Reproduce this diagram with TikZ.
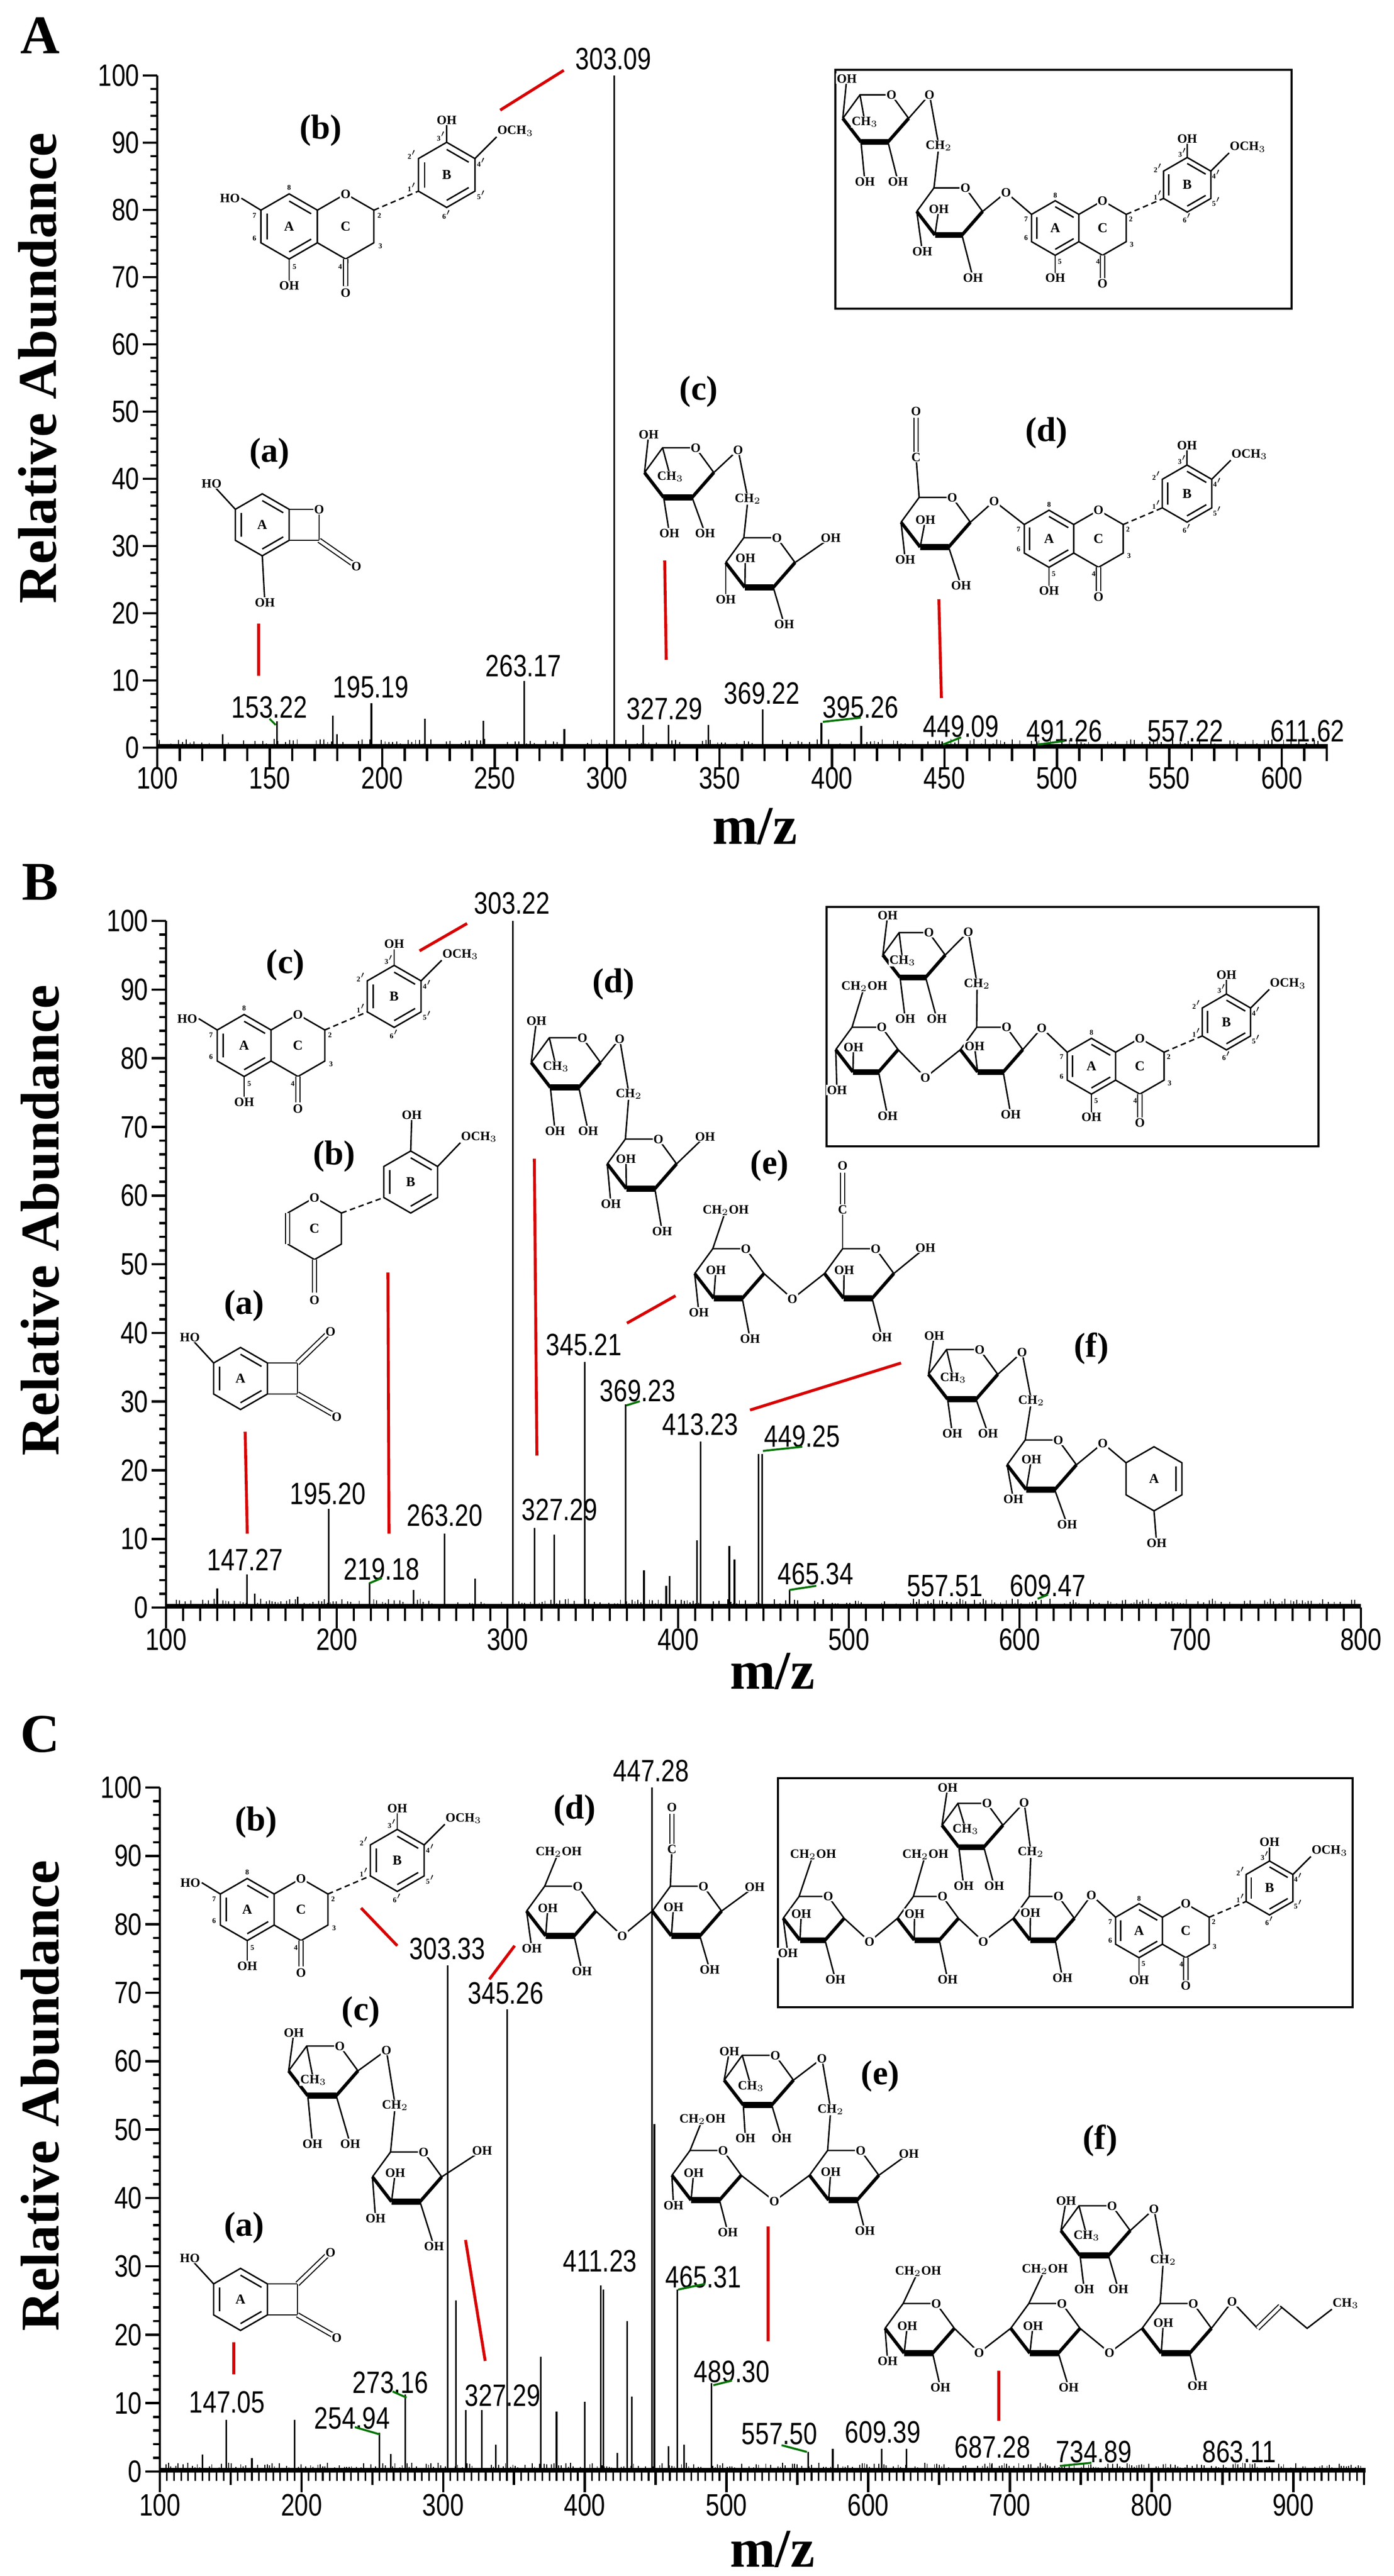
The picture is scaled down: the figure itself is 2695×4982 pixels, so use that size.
\documentclass[tikz,border=0pt]{standalone}
\usepackage{fontspec}
\setmainfont{Liberation Serif}
\newfontfamily\arial{Liberation Sans}
\usetikzlibrary{calc}
\tikzset{
 bond/.style={line width=0.8pt},
 dbl/.style={double, double distance=1.8pt, line width=0.6pt},
 atm/.style={font=\fontsize{7}{8}\selectfont\bfseries, fill=white, inner sep=0.4pt},
 num/.style={font=\fontsize{4}{5}\selectfont\bfseries, inner sep=0},
 rlab/.style={font=\fontsize{7.5}{8}\selectfont\bfseries, inner sep=0},
 flab/.style={font=\fontsize{19}{20}\selectfont\bfseries, inner sep=0},
 plab/.style={font=\arial\fontsize{17}{18}\selectfont, inner sep=0},
 tlab/.style={font=\arial\fontsize{17}{18}\selectfont, inner sep=0},
 axisline/.style={line width=1.3pt},
 peak/.style={line width=0.9pt},
 redln/.style={draw=red!85!black, line width=1.6pt},
 grn/.style={draw=green!45!black, line width=1.1pt},
 ttl/.style={font=\fontsize{30}{32}\selectfont\bfseries, inner sep=0},
 frame/.style={draw, line width=1pt},
}
\newcommand\nr[1]{\scalebox{0.8}[1]{#1}}
\newcommand\pk[2]{\draw[peak] ({\XO+(#1-100)*\XS},\YO) -- ++(0,{-#2*\YS});}
\newcommand\plb[3]{\node[plab] at (#1,#2) {\nr{#3}};}
\newcommand\subst[3]{\draw[bond] (#1) -- (#2) node[atm]{#3};}
\newcommand\olk[3]{\draw[bond] (#1) -- (#2) -- (#3); \node[atm] at (#2) {O};}
\newcommand\noise[1]{\foreach \m in {101,102.7,...,#1}{\pgfmathsetmacro\hh{rnd*1.3}\draw[line width=0.5pt] ({\XO+(\m-100)*\XS},\YO) -- ++(0,{-\hh*\YS});}}
% flavanone
\newcommand\flav[5]{%
\begin{scope}[shift={(#2,#3)},scale=#4]
\coordinate (#1-a) at (0,0);
\coordinate (#1-8) at (0,-60); \coordinate (#1-8a) at (52,-30); \coordinate (#1-4a) at (52,30);
\coordinate (#1-5) at (0,60); \coordinate (#1-6) at (-52,30); \coordinate (#1-7) at (-52,-30);
\coordinate (#1-o1) at (104,-60); \coordinate (#1-2) at (156,-30); \coordinate (#1-3) at (156,30); \coordinate (#1-4) at (104,60);
\coordinate (#1-b) at (290,-95);
\coordinate (#1-1p) at (238,-65); \coordinate (#1-2p) at (238,-125); \coordinate (#1-3p) at (290,-155);
\coordinate (#1-4p) at (342,-125); \coordinate (#1-5p) at (342,-65); \coordinate (#1-6p) at (290,-35);
\draw[bond] (#1-8)--(#1-8a)--(#1-4a)--(#1-5)--(#1-6)--(#1-7)--cycle;
\draw[bond] ($(#1-a)!0.78!(#1-8)$)--($(#1-a)!0.78!(#1-8a)$);
\draw[bond] ($(#1-a)!0.78!(#1-4a)$)--($(#1-a)!0.78!(#1-5)$);
\draw[bond] ($(#1-a)!0.78!(#1-6)$)--($(#1-a)!0.78!(#1-7)$);
\draw[bond] (#1-8a)--(#1-o1)--(#1-2)--(#1-3)--(#1-4)--(#1-4a);
\draw[dbl] (#1-4) -- (104,110);
\node[atm] at (104,122) {O};
\draw[bond] (#1-5) -- (0,105) node[atm,below=-2pt]{OH};
\draw[bond] (#1-1p)--(#1-2p)--(#1-3p)--(#1-4p)--(#1-5p)--(#1-6p)--cycle;
\draw[bond] ($(#1-b)!0.78!(#1-1p)$)--($(#1-b)!0.78!(#1-2p)$);
\draw[bond] ($(#1-b)!0.78!(#1-3p)$)--($(#1-b)!0.78!(#1-4p)$);
\draw[bond] ($(#1-b)!0.78!(#1-5p)$)--($(#1-b)!0.78!(#1-6p)$);
\draw[bond, densely dashed] (#1-2) -- (#1-1p);
\draw[bond] (#1-3p) -- (290,-192) node[atm,above=-2pt]{OH};
\draw[bond] (#1-4p) -- (382,-165) node[atm,anchor=south west,inner sep=0pt]{OCH$_3$};
\node[atm] at (#1-o1) {O};
\node[rlab] at (#1-a) {A}; \node[rlab] at (104,0) {C}; \node[rlab] at (#1-b) {B};
\node[num] at (0,-72) {8}; \node[num] at (-64,-20) {7}; \node[num] at (-64,22) {6};
\node[num] at (10,74) {5}; \node[num] at (94,74) {4}; \node[num] at (168,36) {3};
\node[num] at (166,-20) {2}; \node[num] at (226,-72) {1$'$}; \node[num] at (226,-132) {2$'$};
\node[num] at (280,-166) {3$'$}; \node[num] at (354,-118) {4$'$}; \node[num] at (354,-58) {5$'$};
\node[num] at (290,-22) {6$'$};
\ifnum#5=1 \draw[bond] (#1-7) -- (-88,-52) node[atm,anchor=east]{HO};\fi
\end{scope}}
% A ring fragment with 4-membered ring
\newcommand\fraga[4]{%
\begin{scope}[shift={(#2,#3)}]
\coordinate (#1-c) at (0,0);
\coordinate (#1-t) at (0,-60); \coordinate (#1-tr) at (52,-30); \coordinate (#1-br) at (52,30);
\coordinate (#1-b) at (0,60); \coordinate (#1-bl) at (-52,30); \coordinate (#1-tl) at (-52,-30);
\coordinate (#1-s1) at (110,-30); \coordinate (#1-s2) at (110,30);
\draw[bond] (#1-t)--(#1-tr)--(#1-br)--(#1-b)--(#1-bl)--(#1-tl)--cycle;
\draw[bond] ($(#1-c)!0.78!(#1-t)$)--($(#1-c)!0.78!(#1-tr)$);
\draw[bond] ($(#1-c)!0.78!(#1-br)$)--($(#1-c)!0.78!(#1-b)$);
\draw[bond] ($(#1-c)!0.78!(#1-bl)$)--($(#1-c)!0.78!(#1-tl)$);
\draw[bond] (#1-tr)--(#1-s1)--(#1-s2)--(#1-br);
\draw[bond] (#1-tl) -- (-98,-80) node[atm]{HO};
\node[rlab] at (#1-c) {A};
\ifnum#4=1
 \node[atm] at (#1-s1) {O};
 \draw[dbl] (#1-s2) -- (176,76); \node[atm] at (182,80) {O};
 \draw[bond] (#1-b) -- (5,150) node[atm]{OH};
\else
 \draw[dbl] (#1-s1) -- (168,-86); \node[atm] at (174,-91) {O};
 \draw[dbl] (#1-s2) -- (180,70); \node[atm] at (186,74) {O};
\fi
\end{scope}}
% Haworth sugar ring
\newcommand\sug[4]{%
\begin{scope}[shift={(#2,#3)},scale=#4]
\coordinate (#1-c5) at (-32,-48); \coordinate (#1-o) at (32,-48); \coordinate (#1-c1) at (67,0);
\coordinate (#1-c2) at (25,48); \coordinate (#1-c3) at (-30,48); \coordinate (#1-c4) at (-67,0);
\draw[bond] (#1-c4)--(#1-c5)--(#1-o)--(#1-c1);
\draw[line width=1.8pt, line join=round] (#1-c1)--(#1-c2);
\draw[line width=1.8pt, line join=round] (#1-c3)--(#1-c4);
\draw[line width=3.2pt] (#1-c2)--(#1-c3);
\node[atm] at (#1-o) {O};
\end{scope}}
\begin{document}
\begin{tikzpicture}[x=0.01cm,y=-0.01cm]
\useasboundingbox (0,0) rectangle (2695,4982);
\fill[white] (0,0) rectangle (2695,4982);
\pgfmathsetseed{7}
%================ PANEL A
\node[ttl] (LA) at (78,69) {A};
\node[ttl, rotate=90] (YA) at (73,712) {Relative Abundance};
\node[ttl] (XA) at (1459,1598) {m/z};
\def\XO{304}\def\XS{4.348}\def\YO{1446}\def\YS{13}
\noise{618}
\draw[axisline] (304,146) -- (304,1446) -- (2567,1446);
\draw[line width=2.2pt] (304,1443) -- (2567,1443);
\foreach \v in {0,2,...,100} \draw[axisline] (304,{1446-\v*13}) -- ++(-13,0);
\foreach \v in {0,10,...,100} {\draw[axisline] (304,{1446-\v*13}) -- ++(-28,0);
 \node[tlab,anchor=east] at (270,{1446-\v*13}) {\nr{\v}};}
\foreach \m in {100,110,...,620} \draw[axisline] ({304+(\m-100)*4.348},1446) -- ++(0,26);
\foreach \m in {100,150,...,600} {\draw[axisline] ({304+(\m-100)*4.348},1446) -- ++(0,40);
 \node[tlab] at ({304+(\m-100)*4.348},1505) {\nr{\m}};}
\pk{129}{2.0}\pk{153.2}{3.9}\pk{178}{4.8}\pk{180}{2.0}\pk{195.2}{6.6}\pk{219}{4.3}
\pk{245}{4.0}\pk{263.2}{9.9}\pk{281}{2.8}\pk{303.1}{100}\pk{316}{3.4}\pk{327.3}{3.4}
\pk{345}{3.4}\pk{369.2}{5.7}\pk{395.3}{3.7}\pk{413}{3.2}\pk{449}{0.9}\pk{491}{0.9}\pk{557}{0.6}\pk{611}{0.7}
\plb{1186}{114}{303.09}\plb{521}{1368}{153.22}\plb{717}{1329}{195.19}\plb{1012}{1288}{263.17}
\plb{1285}{1371}{327.29}\plb{1473}{1341}{369.22}\plb{1664}{1368}{395.26}\plb{1858}{1405}{449.09}
\plb{2058}{1414}{491.26}\plb{2292}{1414}{557.22}\plb{2528}{1414}{611.62}
\draw[grn] (521,1390) -- (533,1402);
\draw[grn] (1591,1396) -- (1664,1388);
\draw[grn] (1823,1440) -- (1858,1426);
\draw[grn] (2006,1440) -- (2058,1433);
\draw[redln] (967,213) -- (1090,136);
\draw[redln] (500,1206) -- (500,1307);
\draw[redln] (1285,1084) -- (1288,1276);
\draw[redln] (1815,1159) -- (1820,1350);
% (b)
\node[flab] at (620,252) {(b)};
\flav{ab}{559}{438}{1.05}{1}
% (a)
\node[flab] at (521,877) {(a)};
\fraga{aa}{507}{1015}{1}
% (c)
\node[flab] at (1351,757) {(c)};
\sug{ac1}{1313}{914}{1}
\subst{ac1-c4}{1254,840}{OH}
\subst{ac1-c5}{1296,922}{CH$_3$}
\subst{ac1-c3}{1294,1031}{OH}
\subst{ac1-c2}{1363,1031}{OH}
\sug{ac2}{1470}{1088}{1}
\draw[bond] (ac1-c1) -- (1427,870) -- (1446,965) -- (ac2-c5);
\node[atm] at (1427,870) {O}; \node[atm] at (1446,965) {CH$_2$};
\subst{ac2-c1}{1606,1040}{OH}
\subst{ac2-c3}{1441,1079}{OH}
\subst{ac2-c4}{1403,1159}{OH}
\subst{ac2-c2}{1516,1207}{OH}
% (d)
\node[flab] at (2023,837) {(d)};
\flav{ad}{2028}{1042}{0.92}{0}
\sug{ad1}{1809}{1010}{1}
\draw[bond] (ad1-c5) -- (1771,884); \node[atm] (adC) at (1771,884) {C};
\draw[dbl] (adC) -- (1771,808); \node[atm] at (1771,795) {O};
\olk{ad1-c1}{1922,969}{ad-7}
\subst{ad1-c3}{1789,1005}{OH}
\subst{ad1-c4}{1750,1082}{OH}
\subst{ad1-c2}{1858,1132}{OH}
% box A
\draw[frame] (1615,135) rectangle (2497,597);
\flav{abx}{2040}{441}{0.88}{0}
\sug{abx1}{1693}{229}{0.95}
\subst{abx1-c4}{1637,152}{OH}
\subst{abx1-c5}{1672,236}{CH$_3$}
\subst{abx1-c3}{1672,351}{OH}
\subst{abx1-c2}{1736,351}{OH}
\sug{abx2}{1836}{409}{0.95}
\draw[bond] (abx1-c1) -- (1797,183) -- (1815,282) -- (abx2-c5);
\node[atm] at (1797,183) {O}; \node[atm] at (1815,282) {CH$_2$};
\olk{abx2-c1}{1945,372}{abx-7}
\subst{abx2-c3}{1815,404}{OH}
\subst{abx2-c4}{1783,486}{OH}
\subst{abx2-c2}{1881,537}{OH}
%================ PANEL B
\node[ttl] (LB) at (78,1706) {B};
\node[ttl, rotate=90] (YB) at (78,2360) {Relative Abundance};
\node[ttl] (XB) at (1493,3232) {m/z};
\def\XO{321}\def\XS{3.3}\def\YO{3109}\def\YS{13.28}
\noise{798}
\draw[axisline] (321,1781) -- (321,3109) -- (2631,3109);
\draw[line width=2.2pt] (321,3106) -- (2631,3106);
\foreach \v in {0,2,...,100} \draw[axisline] (321,{3109-\v*13.28}) -- ++(-13,0);
\foreach \v in {0,10,...,100} {\draw[axisline] (321,{3109-\v*13.28}) -- ++(-28,0);
 \node[tlab,anchor=east] at (287,{3109-\v*13.28}) {\nr{\v}};}
\foreach \m in {100,110,...,800} \draw[axisline] ({321+(\m-100)*3.3},3109) -- ++(0,26);
\foreach \m in {100,200,...,800} {\draw[axisline] ({321+(\m-100)*3.3},3109) -- ++(0,40);
 \node[tlab] at ({321+(\m-100)*3.3},3171) {\nr{\m}};}
\pk{130}{2.8}\pk{147.3}{4.8}\pk{152}{2}\pk{177}{1.6}\pk{195.2}{14.4}\pk{219.2}{3.6}\pk{245}{2.6}
\pk{263.2}{10.8}\pk{281}{4.2}\pk{303.2}{100}\pk{316}{11.6}\pk{327.3}{10.6}\pk{345.2}{35.8}
\pk{369.2}{29.6}\pk{380}{5.4}\pk{393}{3.2}\pk{395}{4.6}\pk{411}{9.8}\pk{413.2}{24.2}\pk{430}{9}
\pk{433}{7}\pk{447}{22.4}\pk{449.2}{22.4}\pk{465.3}{2.6}\pk{485}{1.2}\pk{557.5}{0.8}\pk{609.5}{1}
\plb{990}{1747}{303.22}\plb{1129}{2601}{345.21}\plb{1233}{2690}{369.23}\plb{1354}{2755}{413.23}
\plb{1551}{2778}{449.25}\plb{634}{2889}{195.20}\plb{860}{2931}{263.20}\plb{1082}{2920}{327.29}
\plb{474}{3017}{147.27}\plb{738}{3035}{219.18}\plb{1577}{3044}{465.34}\plb{1827}{3067}{557.51}
\plb{2026}{3067}{609.47}
\draw[grn] (714,3062) -- (738,3052);
\draw[grn] (1211,2718) -- (1237,2710);
\draw[grn] (1475,2806) -- (1551,2798);
\draw[grn] (1526,3075) -- (1578,3067);
\draw[grn] (2006,3092) -- (2026,3084);
\draw[redln] (811,1839) -- (903,1786);
\draw[redln] (474,2769) -- (478,2966);
\draw[redln] (750,2461) -- (752,2966);
\draw[redln] (1033,2241) -- (1038,2815);
\draw[redln] (1212,2559) -- (1306,2506);
\draw[redln] (1450,2727) -- (1742,2636);
% (c)
\node[flab] at (552,1866) {(c)};
\flav{bc}{472}{2022}{1.0}{1}
% (b)
\node[flab] at (646,2236) {(b)};
\coordinate (bbO) at (608,2316); \coordinate (bb2) at (660,2346); \coordinate (bb3) at (660,2406);
\coordinate (bb4) at (608,2436); \coordinate (bb4a) at (556,2406); \coordinate (bb8a) at (556,2346);
\draw[bond] (bb8a) -- (bbO) -- (bb2) -- (bb3) -- (bb4) -- (bb4a);
\draw[dbl] (bb4a) -- (bb8a);
\draw[dbl] (bb4) -- (608,2500); \node[atm] at (608,2514) {O};
\node[atm] at (bbO) {O}; \node[rlab] at (608,2376) {C};
\coordinate (bbB) at (794,2286);
\coordinate (bb1p) at (742,2316); \coordinate (bb2p) at (742,2256); \coordinate (bb3p) at (794,2226);
\coordinate (bb4p) at (846,2256); \coordinate (bb5p) at (846,2316); \coordinate (bb6p) at (794,2346);
\draw[bond] (bb1p)--(bb2p)--(bb3p)--(bb4p)--(bb5p)--(bb6p)--cycle;
\draw[bond] ($(bbB)!0.78!(bb1p)$)--($(bbB)!0.78!(bb2p)$);
\draw[bond] ($(bbB)!0.78!(bb3p)$)--($(bbB)!0.78!(bb4p)$);
\draw[bond] ($(bbB)!0.78!(bb5p)$)--($(bbB)!0.78!(bb6p)$);
\draw[bond, densely dashed] (bb2) -- (bb1p);
\node[rlab] at (bbB) {B};
\draw[bond] (bb3p) -- (796,2160) node[atm,above=-2pt]{OH};
\draw[bond] (bb4p) -- (890,2210) node[atm,anchor=south west,inner sep=0pt]{OCH$_3$};
% (a)
\node[flab] at (472,2525) {(a)};
\fraga{ba}{465}{2666}{2}
% (d)
\node[flab] at (1186,1903) {(d)};
\sug{bd1}{1094}{2055}{1}
\subst{bd1-c4}{1037,1974}{OH}
\subst{bd1-c5}{1075,2063}{CH$_3$}
\subst{bd1-c3}{1073,2187}{OH}
\subst{bd1-c2}{1137,2187}{OH}
\sug{bd2}{1241}{2251}{1}
\draw[bond] (bd1-c1) -- (1198,2009) -- (1216,2116) -- (bd2-c5);
\node[atm] at (1198,2009) {O}; \node[atm] at (1216,2116) {CH$_2$};
\subst{bd2-c1}{1363,2198}{OH}
\subst{bd2-c3}{1210,2241}{OH}
\subst{bd2-c4}{1181,2328}{OH}
\subst{bd2-c2}{1280,2381}{OH}
% (e)
\node[flab] at (1488,2254) {(e)};
\sug{be1}{1410}{2463}{1}
\subst{be1-c5}{1403,2341}{CH$_2$OH}
\subst{be1-c3}{1384,2456}{OH}
\subst{be1-c4}{1351,2538}{OH}
\subst{be1-c2}{1450,2589}{OH}
\sug{be2}{1661}{2463}{1}
\olk{be1-c1}{1532,2512}{be2-c4}
\draw[bond] (be2-c5) -- (1629,2339); \node[atm] (beC) at (1629,2339) {C};
\draw[dbl] (beC) -- (1629,2268); \node[atm] at (1629,2254) {O};
\subst{be2-c1}{1789,2413}{OH}
\subst{be2-c3}{1632,2456}{OH}
\subst{be2-c2}{1705,2586}{OH}
% (f)
\node[flab] at (2110,2608) {(f)};
\sug{bf1}{1862}{2658}{1}
\subst{bf1-c4}{1806,2583}{OH}
\subst{bf1-c5}{1843,2665}{CH$_3$}
\subst{bf1-c3}{1841,2772}{OH}
\subst{bf1-c2}{1910,2772}{OH}
\sug{bf2}{2014}{2833}{1}
\draw[bond] (bf1-c1) -- (1976,2615) -- (1994,2709) -- (bf2-c5);
\node[atm] at (1976,2615) {O}; \node[atm] at (1994,2709) {CH$_2$};
\subst{bf2-c3}{1994,2822}{OH}
\subst{bf2-c4}{1959,2899}{OH}
\subst{bf2-c2}{2063,2948}{OH}
\coordinate (bfP) at (2231,2860);
\coordinate (bfp1) at (2231,2798); \coordinate (bfp2) at (2285,2829); \coordinate (bfp3) at (2285,2891);
\coordinate (bfp4) at (2231,2922); \coordinate (bfp5) at (2177,2891); \coordinate (bfp6) at (2177,2829);
\draw[bond] (bfp1)--(bfp2)--(bfp3)--(bfp4)--(bfp5)--(bfp6)--cycle;
\draw[bond] ($(bfP)!0.78!(bfp2)$)--($(bfP)!0.78!(bfp3)$);
\node[rlab] at (bfP) {A};
\olk{bf2-c1}{2132,2791}{bfp6}
\subst{bfp4}{2236,2984}{OH}
% box B
\draw[frame] (1598,1754) rectangle (2549,2217);
\flav{bbx}{2110}{2062}{0.9}{0}
\sug{bbx1}{1767}{1847}{0.9}
\subst{bbx1-c4}{1716,1770}{OH}
\subst{bbx1-c5}{1745,1858}{CH$_3$}
\subst{bbx1-c3}{1750,1970}{OH}
\subst{bbx1-c2}{1811,1970}{OH}
\sug{bbx2}{1917}{2030}{0.9}
\draw[bond] (bbx1-c1) -- (1872,1802) -- (1889,1903) -- (bbx2-c5);
\node[atm] at (1872,1802) {O}; \node[atm] at (1889,1903) {CH$_2$};
\olk{bbx2-c1}{2014,1988}{bbx-7}
\subst{bbx2-c3}{1884,2023}{OH}
\subst{bbx2-c2}{1954,2155}{OH}
\sug{bbx3}{1676}{2030}{0.9}
\olk{bbx3-c1}{1789,2084}{bbx2-c4}
\subst{bbx3-c5}{1671,1908}{CH$_2$OH}
\subst{bbx3-c3}{1650,2025}{OH}
\subst{bbx3-c4}{1618,2108}{OH}
\subst{bbx3-c2}{1716,2158}{OH}
%================ PANEL C
\node[ttl] (LC) at (78,3354) {C};
\node[ttl, rotate=90] (YC) at (78,4053) {Relative Abundance};
\node[ttl] (XC) at (1493,4930) {m/z};
\def\XO{309}\def\XS{2.739}\def\YO{4780}\def\YS{13.23}
\noise{948}
\draw[axisline] (309,3457) -- (309,4780) -- (2640,4780);
\draw[line width=2.2pt] (309,4777) -- (2640,4777);
\foreach \v in {0,2,...,100} \draw[axisline] (309,{4780-\v*13.23}) -- ++(-13,0);
\foreach \v in {0,10,...,100} {\draw[axisline] (309,{4780-\v*13.23}) -- ++(-28,0);
 \node[tlab,anchor=east] at (275,{4780-\v*13.23}) {\nr{\v}};}
\foreach \m in {100,105,...,950} \draw[line width=0.9pt] ({309+(\m-100)*2.739},4780) -- ++(0,18);
\foreach \m in {100,150,...,950} \draw[axisline] ({309+(\m-100)*2.739},4780) -- ++(0,26);
\foreach \m in {100,200,...,900} {\draw[axisline] ({309+(\m-100)*2.739},4780) -- ++(0,40);
 \node[tlab] at ({309+(\m-100)*2.739},4845) {\nr{\m}};}
\pk{130}{2.5}\pk{147}{7.6}\pk{165}{2}\pk{195}{7.6}\pk{255}{5.7}\pk{263}{2.6}\pk{273.2}{11.3}
\pk{303.3}{74}\pk{309}{25}\pk{316}{9}\pk{327.3}{9}\pk{337}{3.9}\pk{345.3}{67.6}\pk{369}{16.8}
\pk{380}{8.8}\pk{400}{10.2}\pk{411.2}{27.2}\pk{413}{26.6}\pk{423}{2.7}\pk{430}{22}\pk{433}{11}
\pk{447.3}{100}\pk{449}{50.8}\pk{459}{3.7}\pk{465.3}{26.6}\pk{470}{3.9}\pk{489.3}{12.9}
\pk{557.5}{2.9}\pk{575}{3.3}\pk{609.4}{3.3}\pk{627}{3.3}\pk{687.3}{1.1}\pk{734.9}{0.6}\pk{863}{0.6}
\plb{1259}{3425}{447.28}\plb{865}{3769}{303.33}\plb{978}{3855}{345.26}\plb{1160}{4373}{411.23}
\plb{1360}{4404}{465.31}\plb{1415}{4587}{489.30}\plb{755}{4608}{273.16}\plb{972}{4633}{327.29}
\plb{439}{4646}{147.05}\plb{681}{4677}{254.94}\plb{1507}{4707}{557.50}\plb{1707}{4704}{609.39}
\plb{1919}{4733}{687.28}\plb{2115}{4742}{734.89}\plb{2396}{4742}{863.11}
\draw[grn] (686,4694) -- (734,4708);
\draw[grn] (759,4625) -- (786,4637);
\draw[grn] (1311,4428) -- (1363,4417);
\draw[grn] (1379,4613) -- (1415,4604);
\draw[grn] (1511,4729) -- (1560,4742);
\draw[grn] (2049,4769) -- (2110,4763);
\draw[redln] (698,3690) -- (768,3763);
\draw[redln] (946,3828) -- (995,3763);
\draw[redln] (452,4530) -- (452,4592);
\draw[redln] (900,4332) -- (938,4566);
\draw[redln] (1485,4306) -- (1485,4528);
\draw[redln] (1931,4585) -- (1931,4682);
% (b)
\node[flab] at (495,3524) {(b)};
\flav{cb}{478}{3693}{1.0}{1}
% (a)
\node[flab] at (472,4308) {(a)};
\fraga{ca}{465}{4447}{2}
% (d)
\node[flab] at (1111,3501) {(d)};
\sug{cd1}{1085}{3696}{1}
\subst{cd1-c5}{1080,3582}{CH$_2$OH}
\subst{cd1-c3}{1059,3690}{OH}
\subst{cd1-c4}{1028,3768}{OH}
\subst{cd1-c2}{1125,3812}{OH}
\sug{cd2}{1328}{3696}{1}
\olk{cd1-c1}{1203,3744}{cd2-c4}
\draw[bond] (cd2-c5) -- (1299,3576); \node[atm] (cdC) at (1299,3576) {C};
\draw[dbl] (cdC) -- (1299,3508); \node[atm] at (1299,3495) {O};
\subst{cd2-c1}{1459,3649}{OH}
\subst{cd2-c3}{1302,3688}{OH}
\subst{cd2-c2}{1372,3809}{OH}
% (c)
\node[flab] at (698,3891) {(c)};
\sug{cc1}{625}{4005}{1}
\subst{cc1-c4}{568,3931}{OH}
\subst{cc1-c5}{606,4023}{CH$_3$}
\subst{cc1-c3}{604,4146}{OH}
\subst{cc1-c2}{677,4146}{OH}
\sug{cc2}{787}{4210}{1}
\draw[bond] (cc1-c1) -- (747,3965) -- (764,4072) -- (cc2-c5);
\node[atm] at (747,3965) {O}; \node[atm] at (764,4072) {CH$_2$};
\subst{cc2-c1}{932,4159}{OH}
\subst{cc2-c3}{764,4202}{OH}
\subst{cc2-c4}{726,4290}{OH}
\subst{cc2-c2}{839,4344}{OH}
% (e)
\node[flab] at (1702,4015) {(e)};
\sug{ce1}{1467}{4023}{1}
\subst{ce1-c4}{1410,3967}{OH}
\subst{ce1-c5}{1452,4035}{CH$_3$}
\subst{ce1-c3}{1441,4135}{OH}
\subst{ce1-c2}{1511,4135}{OH}
\sug{ce3}{1632}{4207}{1}
\draw[bond] (ce1-c1) -- (1589,3981) -- (1606,4080) -- (ce3-c5);
\node[atm] at (1589,3981) {O}; \node[atm] at (1606,4080) {CH$_2$};
\subst{ce3-c1}{1757,4165}{OH}
\subst{ce3-c3}{1606,4200}{OH}
\subst{ce3-c2}{1672,4314}{OH}
\sug{ce2}{1366}{4207}{1}
\olk{ce2-c1}{1497,4257}{ce3-c4}
\subst{ce2-c5}{1358,4099}{CH$_2$OH}
\subst{ce2-c3}{1341,4202}{OH}
\subst{ce2-c4}{1302,4265}{OH}
\subst{ce2-c2}{1407,4317}{OH}
% (f)
\node[flab] at (2127,4140) {(f)};
\sug{cf0}{2118}{4314}{1}
\subst{cf0-c4}{2061,4256}{OH}
\subst{cf0-c5}{2101,4324}{CH$_3$}
\subst{cf0-c3}{2096,4427}{OH}
\subst{cf0-c2}{2162,4427}{OH}
\sug{cf1}{1778}{4503}{1}
\sug{cf2}{2021}{4503}{1}
\sug{cf3}{2275}{4503}{1}
\draw[bond] (cf0-c1) -- (2231,4272) -- (2249,4371) -- (cf3-c5);
\node[atm] at (2231,4272) {O}; \node[atm] at (2249,4371) {CH$_2$};
\olk{cf1-c1}{1893,4550}{cf2-c4}
\olk{cf2-c1}{2145,4550}{cf3-c4}
\subst{cf1-c5}{1775,4393}{CH$_2$OH}
\subst{cf2-c5}{2020,4389}{CH$_2$OH}
\subst{cf1-c3}{1754,4498}{OH}\subst{cf2-c3}{1997,4498}{OH}\subst{cf3-c3}{2249,4492}{OH}
\subst{cf1-c4}{1716,4566}{OH}
\subst{cf1-c2}{1818,4617}{OH}\subst{cf2-c2}{2066,4617}{OH}\subst{cf3-c2}{2315,4614}{OH}
\coordinate (cfa) at (2431,4503); \coordinate (cfb) at (2475,4460); \coordinate (cfc) at (2527,4503);
\draw[bond] (cf3-c1) -- (2382,4451) -- (cfa);
\node[atm] at (2382,4451) {O};
\draw[dbl] (cfa) -- (cfb);
\draw[bond] (cfb) -- (cfc) -- (2575,4466) node[atm,anchor=south west,inner sep=0pt]{CH$_3$};
% box C
\draw[frame] (1504,3439) rectangle (2615,3882);
\flav{cbx}{2202}{3734}{0.87}{0}
\sug{cbx0}{1880}{3530}{0.88}
\subst{cbx0-c4}{1832,3457}{OH}
\subst{cbx0-c5}{1867,3538}{CH$_3$}
\subst{cbx0-c3}{1863,3647}{OH}
\subst{cbx0-c2}{1922,3647}{OH}
\sug{cbx1}{1573}{3710}{0.88}
\sug{cbx2}{1794}{3710}{0.88}
\sug{cbx3}{2018}{3710}{0.88}
\draw[bond] (cbx0-c1) -- (1980,3486) -- (1993,3582) -- (cbx3-c5);
\node[atm] at (1980,3486) {O}; \node[atm] at (1993,3582) {CH$_2$};
\olk{cbx1-c1}{1681,3755}{cbx2-c4}
\olk{cbx2-c1}{1901,3755}{cbx3-c4}
\olk{cbx3-c1}{2110,3665}{cbx-7}
\subst{cbx1-c5}{1572,3587}{CH$_2$OH}
\subst{cbx2-c5}{1789,3587}{CH$_2$OH}
\subst{cbx1-c3}{1549,3701}{OH}\subst{cbx2-c3}{1768,3701}{OH}\subst{cbx3-c3}{1992,3699}{OH}
\subst{cbx1-c4}{1523,3777}{OH}
\subst{cbx1-c2}{1615,3828}{OH}\subst{cbx2-c2}{1832,3828}{OH}\subst{cbx3-c2}{2054,3825}{OH}
\end{tikzpicture}
\end{document}
